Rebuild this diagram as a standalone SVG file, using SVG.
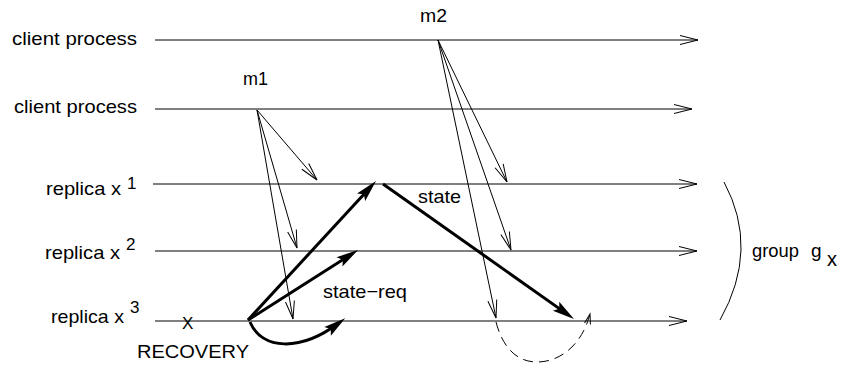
<svg xmlns="http://www.w3.org/2000/svg" width="841" height="366" viewBox="0 0 841 366">
<style>
text{font-family:"Liberation Sans",Arial,sans-serif;fill:#000}
.lbl{font-size:19px}
.sup{font-size:17px}
.thin{stroke:#000;stroke-width:1;fill:none}
.thick{stroke:#000;stroke-width:3;fill:none}
</style>
<defs>
<marker id="open" markerUnits="userSpaceOnUse" orient="auto" overflow="visible" markerWidth="1" markerHeight="1" refX="0" refY="0">
<path d="M-18,-4.5 L0,0 L-18,4.5" fill="none" stroke="#000" stroke-width="1"/>
</marker>
<marker id="opensmall" markerUnits="userSpaceOnUse" orient="auto" overflow="visible" markerWidth="1" markerHeight="1" refX="0" refY="0">
<path d="M-10,-3 L0,0 L-10,3" fill="none" stroke="#000" stroke-width="1"/>
</marker>
<marker id="solid" markerUnits="userSpaceOnUse" orient="auto" overflow="visible" markerWidth="1" markerHeight="1" refX="0" refY="0">
<path d="M8,0 L-14,-5.5 L-10,0 L-14,5.5 Z" fill="#000" stroke="none"/>
</marker>
</defs>
<rect width="841" height="366" fill="#fff"/>

<g id="client1">
<text class="lbl" x="12" y="45" textLength="125" lengthAdjust="spacingAndGlyphs">client process</text>
<path class="thin" d="M155,40 H698" marker-end="url(#open)"/>
</g>
<g id="client2">
<text class="lbl" x="14" y="113" textLength="123" lengthAdjust="spacingAndGlyphs">client process</text>
<path class="thin" d="M155,109 H692" marker-end="url(#open)"/>
</g>
<g id="replica1">
<text class="lbl" x="46" y="195" textLength="75" lengthAdjust="spacingAndGlyphs">replica x</text>
<text class="sup" x="127" y="189">1</text>
<path class="thin" d="M153,184 H697" marker-end="url(#open)"/>
</g>
<g id="replica2">
<text class="lbl" x="45" y="259" textLength="75" lengthAdjust="spacingAndGlyphs">replica x</text>
<text class="sup" x="126" y="250">2</text>
<path class="thin" d="M155,251 H697" marker-end="url(#open)"/>
</g>
<g id="replica3">
<text class="lbl" x="51" y="323" textLength="73" lengthAdjust="spacingAndGlyphs">replica x</text>
<text class="sup" x="130" y="313">3</text>
<path class="thin" d="M155,321 H687" marker-end="url(#open)"/>
<text x="182" y="329" style="font-size:17px">X</text>
<text class="lbl" x="137" y="358" textLength="112" lengthAdjust="spacingAndGlyphs">RECOVERY</text>
</g>
<g id="group-gx">
<path class="thin" d="M724,182 Q760,249 720,320"/>
<text class="lbl" x="752" y="257" textLength="47" lengthAdjust="spacingAndGlyphs">group</text>
<text class="lbl" x="811" y="257">g</text>
<text x="827" y="266" style="font-size:20px">x</text>
</g>

<g id="labels">
<text class="lbl" x="243" y="85" textLength="25" lengthAdjust="spacingAndGlyphs">m1</text>
<text class="lbl" x="420" y="22" textLength="27" lengthAdjust="spacingAndGlyphs">m2</text>
<text class="lbl" x="418" y="203" textLength="43" lengthAdjust="spacingAndGlyphs">state</text>
<text class="lbl" x="323" y="298" textLength="84" lengthAdjust="spacingAndGlyphs">state−req</text>
</g>

<g id="connectors">
<path class="thin" d="M257,110 L317,180" marker-end="url(#open)"/>
<path class="thin" d="M257,110 L297,248" marker-end="url(#open)"/>
<path class="thin" d="M257,110 L293,319" marker-end="url(#open)"/>
<path class="thin" d="M438,40 L507,182" marker-end="url(#open)"/>
<path class="thin" d="M438,40 L511,250" marker-end="url(#open)"/>
<path class="thin" d="M438,40 L496,318" marker-end="url(#open)"/>
<path class="thick" d="M248,320 L370.6,186.9" marker-end="url(#solid)"/>
<path class="thick" d="M248,320 L351.3,254.3" marker-end="url(#solid)"/>
<path class="thick" d="M250,322 C262,350 300,352 338.8,323" marker-end="url(#solid)"/>
<path class="thick" d="M383,184 L567.5,314.4" marker-end="url(#solid)"/>
<path class="thin" d="M496,322 C502,345 515,362 537,362 C560,362 582,345 590,314" stroke-dasharray="10,6" marker-end="url(#opensmall)"/>
</g>
</svg>
